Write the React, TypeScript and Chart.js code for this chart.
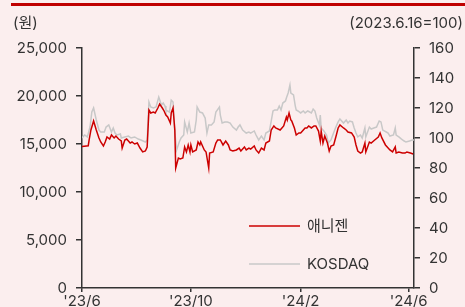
import React, { useEffect, useRef } from "react";
import { Chart, registerables } from "chart.js";

Chart.register(...registerables);

// ---- data ----
const START_DATE = "2023-06-16";
const xTickDates = ["2023-06-16", "2023-10-16", "2024-02-16", "2024-06-16"];
const xTickLabels = ["'23/6", "'23/10", "'24/2", "'24/6"];
const leftTicks = [0, 5000, 10000, 15000, 20000, 25000];
const rightTicks = [0, 20, 40, 60, 80, 100, 120, 140, 160];
const seriesNames = ["애니젠", "KOSDAQ"];
const X_MAX_DAY = 372;

// days since START_DATE
const aniDays = [
  0, 7, 8, 10, 13, 16, 19, 21, 24, 26,
  28, 31, 33, 36, 38, 41, 44, 45, 48, 50,
  54, 56, 59, 62, 65, 68, 71, 73, 75, 77,
  80, 82, 85, 87, 90, 92, 94, 96, 99, 100,
  102, 104, 105, 108, 110, 113, 115, 117, 119, 121,
  122, 124, 128, 130, 132, 133, 137, 139, 142, 143,
  147, 150, 152, 155, 158, 161, 164, 166, 169, 173,
  176, 178, 182, 184, 187, 189, 193, 195, 198, 201,
  204, 206, 210, 212, 215, 217, 222, 224, 226, 229,
  230, 232, 234, 235, 238, 240, 243, 245, 248, 250,
  252, 254, 257, 260, 262, 265, 267, 268, 270, 272,
  275, 277, 279, 282, 285, 287, 289, 293, 296, 298,
  302, 305, 307, 309, 312, 314, 317, 318, 322, 324,
  328, 332, 334, 336, 340, 342, 345, 348, 351, 352,
  355, 359, 362, 364, 368, 371,
];
const aniPrice = [
  14750, 14820, 15420, 16460, 17400, 16460, 15630, 15210, 14790, 15210,
  15730, 15520, 15940, 15630, 15830, 15520, 15310, 14580, 15420, 15520,
  15100, 15210, 15000, 15100, 14580, 14170, 14270, 14690, 18540, 18230,
  18330, 18230, 18750, 19170, 18750, 18440, 18020, 17810, 17190, 18230,
  18750, 16460, 12500, 13540, 13440, 13540, 14690, 14170, 14900, 14170,
  14900, 14170, 14380, 15210, 14900, 15210, 14380, 14170, 12500, 14060,
  14170, 15100, 15420, 15420, 14900, 15310, 14900, 14380, 14270, 14380,
  14580, 14270, 14690, 14380, 14580, 14480, 14790, 14380, 14060, 14580,
  14380, 15100, 15310, 16460, 16880, 16670, 16460, 16670, 16880, 17810,
  17500, 18230, 17500, 17400, 16670, 15940, 16150, 16150, 16460, 16670,
  16670, 16880, 16670, 16880, 16880, 16350, 15310, 16350, 15100, 15830,
  15100, 14270, 14790, 14900, 15940, 16670, 16980, 16670, 16460, 16250,
  16150, 15730, 14900, 14270, 14060, 14170, 15100, 14170, 15210, 15100,
  15420, 15730, 16150, 15630, 14900, 14690, 14380, 14170, 14690, 14060,
  14170, 14060, 14060, 14170, 14060, 13960,
];

const kosdaqDays = [
  0, 3, 6, 9, 11, 13, 16, 19, 21, 25,
  27, 30, 33, 35, 37, 39, 43, 44, 48, 52,
  55, 59, 63, 66, 71, 73, 75, 77, 80, 83,
  86, 89, 91, 93, 94, 98, 100, 102, 104, 106,
  109, 111, 114, 115, 118, 120, 122, 126, 128, 129,
  132, 135, 138, 140, 142, 145, 148, 150, 154, 155,
  157, 160, 163, 166, 169, 173, 175, 177, 180, 184,
  187, 189, 193, 195, 198, 201, 204, 206, 210, 212,
  214, 216, 219, 221, 223, 225, 228, 229, 231, 233,
  234, 237, 239, 240, 242, 245, 248, 250, 253, 257,
  259, 261, 263, 266, 267, 268, 271, 274, 276, 279,
  281, 284, 287, 289, 293, 296, 298, 300, 303, 305,
  307, 309, 312, 314, 317, 318, 322, 324, 327, 330,
  333, 335, 337, 341, 343, 345, 349, 351, 352, 355,
  358, 361, 363, 367, 370, 372,
];
const kosdaqIndex = [
  100, 102, 100.7, 107.3, 117.3, 120, 112, 105.3, 104, 104,
  107.3, 108.7, 104, 106.7, 103.3, 102, 102.7, 100, 100.7, 101.3,
  100, 100.7, 99.3, 98.7, 97.3, 98.7, 124, 120.7, 120, 120.7,
  127.3, 122, 123.3, 121.3, 118.7, 117.3, 125.3, 124, 104, 92,
  97.3, 100, 102, 110.7, 104, 110, 103.3, 104, 112, 120.7,
  117.3, 116.7, 113.3, 103.3, 108.7, 108.7, 110.7, 117.3, 120.7, 115.3,
  110, 110.7, 110.7, 110, 107.3, 105.3, 107.3, 108.7, 105.3, 103.3,
  104, 103.3, 104.7, 102, 98.7, 101.3, 98.7, 103.3, 104.7, 111.3,
  118, 118.7, 118.7, 121.3, 118.7, 123.3, 124.7, 126.7, 130, 135.3,
  130, 128.7, 121.3, 118.7, 118, 116.7, 118, 116.7, 118, 116.7,
  119.3, 118, 113.3, 108.7, 115.3, 106.7, 104.7, 102, 96.7, 98.7,
  102, 106.7, 110.7, 112.7, 110, 112, 110, 111.3, 110.7, 106.7,
  103.3, 100.7, 102, 100, 106.7, 100.7, 107.3, 106, 106.7, 107.3,
  111.3, 110.7, 105.3, 104, 103.3, 101.3, 102, 106.7, 102, 100.7,
  99.3, 98, 97.3, 98, 98.7, 98.7,
];

// ---- helpers ----
const DAY_MS = 86400000;
const dayOf = (s: string) =>
  Math.round((Date.parse(s + "T00:00:00Z") - Date.parse(START_DATE + "T00:00:00Z")) / DAY_MS);
const xTickDays = xTickDates.map(dayOf);

const FONT = "Inter, 'Noto Sans CJK KR', sans-serif";
const TEXT = "#333333";
const AXIS = "#333333";
const BG = "#FBEEEE";
const RED = "#CC0000";
const GRAY = "#C8C8C8";

const decorPlugin = {
  id: "decor",
  beforeDraw(chart: any) {
    const { ctx, width, height } = chart;
    ctx.save();
    ctx.fillStyle = BG;
    ctx.fillRect(0, 0, width, height);
    ctx.fillStyle = "#C00000";
    ctx.fillRect(11, 3, width - 11, 3);
    ctx.fillStyle = TEXT;
    ctx.font = `15px ${FONT}`;
    ctx.textBaseline = "middle";
    ctx.textAlign = "left";
    ctx.fillText("(원)", 13, 23);
    ctx.textAlign = "right";
    ctx.fillText("(2023.6.16=100)", 463, 23);
    ctx.restore();
  },
  afterDraw(chart: any) {
    const { ctx } = chart;
    ctx.save();
    const items = [
      { label: seriesNames[0], color: RED, y: 226 },
      { label: seriesNames[1], color: GRAY, y: 264 },
    ];
    ctx.font = `15px ${FONT}`;
    ctx.textBaseline = "middle";
    ctx.textAlign = "left";
    for (const it of items) {
      ctx.strokeStyle = it.color;
      ctx.lineWidth = 1.5;
      ctx.beginPath();
      ctx.moveTo(249, it.y);
      ctx.lineTo(300, it.y);
      ctx.stroke();
      ctx.fillStyle = TEXT;
      ctx.fillText(it.label, 307, it.y);
    }
    ctx.restore();
  },
};

export default function App() {
  const ref = useRef<HTMLCanvasElement | null>(null);

  useEffect(() => {
    if (!ref.current) return;
    const tickFont = { family: FONT, size: 15 };
    const chart = new Chart(ref.current, {
      type: "line",
      data: {
        datasets: [
          {
            label: seriesNames[0],
            data: aniDays.map((d, i) => ({ x: d, y: aniPrice[i] })),
            borderColor: RED,
            borderWidth: 1.5,
            pointRadius: 0,
            tension: 0,
            yAxisID: "y",
          },
          {
            label: seriesNames[1],
            data: kosdaqDays.map((d, i) => ({ x: d, y: kosdaqIndex[i] })),
            borderColor: GRAY,
            borderWidth: 1.5,
            pointRadius: 0,
            tension: 0,
            yAxisID: "y1",
          },
        ],
      },
      options: {
        responsive: false,
        animation: false,
        events: [],
        layout: { padding: { top: 48, left: 0, right: 0, bottom: 0 } },
        plugins: { legend: { display: false }, tooltip: { enabled: false } },
        scales: {
          x: {
            type: "linear",
            min: 0,
            max: X_MAX_DAY,
            afterBuildTicks: (scale: any) => {
              scale.ticks = xTickDays.map((v) => ({ value: v }));
            },
            afterFit: (scale: any) => {
              scale.height = 19;
            },
            ticks: {
              autoSkip: false,
              maxRotation: 0,
              padding: 0,
              color: TEXT,
              font: tickFont,
              callback: (v: any) => {
                const i = xTickDays.indexOf(Number(v));
                return i >= 0 ? xTickLabels[i] : "";
              },
            },
            grid: { drawOnChartArea: false, drawTicks: true, tickLength: 4, color: AXIS, lineWidth: 1.5 },
            border: { display: true, color: AXIS, width: 1.5 },
          },
          y: {
            position: "left",
            min: 0,
            max: 25000,
            afterBuildTicks: (scale: any) => {
              scale.ticks = leftTicks.map((v) => ({ value: v }));
            },
            afterFit: (scale: any) => {
              scale.width = 82;
            },
            ticks: {
              padding: 9,
              color: TEXT,
              font: tickFont,
              callback: (v: any) => Number(v).toLocaleString("en-US"),
            },
            grid: { drawOnChartArea: false, drawTicks: true, tickLength: 6, color: AXIS, lineWidth: 1.5 },
            border: { display: true, color: AXIS, width: 1.5 },
          },
          y1: {
            position: "right",
            min: 0,
            max: 160,
            afterBuildTicks: (scale: any) => {
              scale.ticks = rightTicks.map((v) => ({ value: v }));
            },
            afterFit: (scale: any) => {
              scale.width = 51;
            },
            ticks: {
              padding: 9,
              color: TEXT,
              font: tickFont,
            },
            grid: { drawOnChartArea: false, drawTicks: true, tickLength: 6, color: AXIS, lineWidth: 1.5 },
            border: { display: true, color: AXIS, width: 1.5 },
          },
        },
      },
      plugins: [decorPlugin],
    } as any);
    return () => chart.destroy();
  }, []);

  return (
    <div style={{ position: "fixed", left: 0, top: 0, width: 465, height: 307, background: BG }}>
      <canvas ref={ref} width={465} height={307} style={{ display: "block" }} />
    </div>
  );
}
